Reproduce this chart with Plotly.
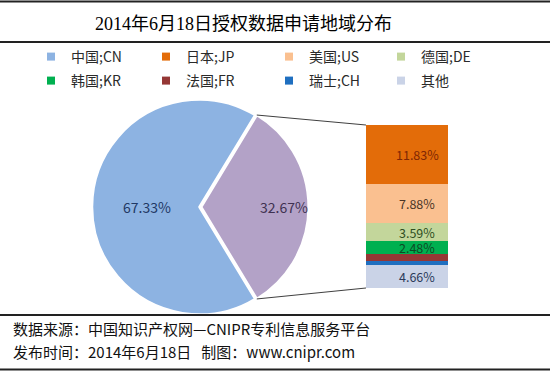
import math
import plotly.graph_objects as go

# ---------------- data ----------------
title_text = "2014年6月18日授权数据申请地域分布"
footer_lines = ["数据来源：中国知识产权网—CNIPR专利信息服务平台",
                "发布时间：2014年6月18日   制图：www.cnipr.com"]

pie_labels = ["其他", "中国;CN"]
pie_values = [32.67, 67.33]
pie_colors = ["#B3A2C7", "#8DB3E2"]
pie_text = ["32.67%", "67.33%"]
pie_text_colors = ["#3F3151", "#1F3864"]

bar_labels = ["日本;JP", "美国;US", "德国;DE", "韩国;KR", "法国;FR", "瑞士;CH", "其他"]
bar_values = [11.83, 7.88, 3.59, 2.48, 1.42, 0.81, 4.66]
bar_colors = ["#E36C09", "#FAC090", "#C3D69B", "#00B050", "#953735", "#1F6FC0", "#CAD3E7"]
bar_text = ["11.83%", "7.88%", "3.59%", "2.48%", "", "", "4.66%"]
bar_text_colors = ["#7F2704", "#4A3526", "#2F4F1F", "#0E4A24", "#000000", "#000000", "#2B3A5A"]

legend_names = ["中国;CN", "日本;JP", "美国;US", "德国;DE", "韩国;KR", "法国;FR", "瑞士;CH", "其他"]
legend_colors = ["#8DB3E2", "#E36C09", "#FAC090", "#C3D69B", "#00B050", "#953735", "#1F6FC0", "#CAD3E7"]

# ---------------- layout geometry (pixels) ----------------
W, H = 550, 371
def px(x):
    return x / W
def py(y):
    return 1 - y / H

cx, cy, r = 199.5, 207, 107.5
pull = 0.015
half = r * (1 + pull)
bar_left, bar_right, bar_top, bar_bottom = 366, 448, 125, 288

fig = go.Figure()

frac_other = pie_values[0] / sum(pie_values)
rotation = 90 - frac_other * 180
fig.add_trace(go.Pie(
    labels=pie_labels, values=pie_values, sort=False, direction="clockwise",
    rotation=rotation, pull=[pull, 0],
    marker=dict(colors=pie_colors, line=dict(color="white", width=2.5)),
    textinfo="none",
    showlegend=False, hoverinfo="label+percent",
    domain=dict(x=[px(cx - half), px(cx + half)], y=[py(cy + half), py(cy - half)]),
))

# stacked bar (bottom first)
for name, val, col in reversed(list(zip(bar_labels, bar_values, bar_colors))):
    fig.add_trace(go.Bar(x=[0], y=[val], name=name, marker=dict(color=col, line=dict(width=0)),
                         width=1, showlegend=False, legendgroup=name))

# legend entries (one legend per entry for exact placement)
leg_x = [31, 146, 269, 381]
leg_y = [57, 81]
layout_legends = {}
for i, (name, col) in enumerate(zip(legend_names, legend_colors)):
    key = "legend" if i == 0 else f"legend{i+1}"
    fig.add_trace(go.Scatter(x=[None], y=[None], mode="markers", name=name,
                             marker=dict(symbol="square", size=8, color=col),
                             legend=key, legendgroup=name, showlegend=True))
    layout_legends[key] = dict(
        x=px(leg_x[i % 4]), y=py(leg_y[i // 4]), xanchor="left", yanchor="middle",
        bgcolor="rgba(0,0,0,0)", font=dict(size=14, color="#2A2A2A", family="Noto Sans CJK SC"),
        itemclick=False, itemdoubleclick=False)

annotations = []

# pie labels, placed along each slice's mid-angle
label_frac = [0.77, 0.49]
start = 0.0
for val, txt, col, lf, pl in zip(pie_values, pie_text, pie_text_colors, label_frac, [pull, 0]):
    mid = math.radians(90 - rotation - (start + val / 2) / sum(pie_values) * 360)
    start += val
    lx = cx + (lf + pl) * r * math.cos(mid)
    ly = cy - (lf + pl) * r * math.sin(mid)
    annotations.append(dict(x=px(lx), y=py(ly), xref="paper", yref="paper", text=txt,
                            showarrow=False, xanchor="center", yanchor="middle",
                            font=dict(size=14, color=col, family="Noto Sans CJK SC")))

# bar labels
cum = 0
for val, txt, col in reversed(list(zip(bar_values, bar_text, bar_text_colors))):
    mid = cum + val / 2
    cum += val
    if txt:
        annotations.append(dict(x=0, y=mid, xref="x", yref="y", text=txt, showarrow=False,
                                xshift=10, yanchor="middle",
                                font=dict(size=12.5, color=col, family="Noto Sans CJK SC")))

# title and footer
annotations.append(dict(x=px(243), y=py(24), xref="paper", yref="paper", text=title_text,
                        showarrow=False, xanchor="center", yanchor="middle",
                        font=dict(size=18, color="#000000",
                                  family="Liberation Serif, Noto Sans CJK SC")))
for i, line in enumerate(footer_lines):
    annotations.append(dict(x=px(11), y=py(328 + 23 * i), xref="paper", yref="paper", text=line,
                            showarrow=False, xanchor="left", yanchor="middle",
                            font=dict(size=15, color="#111111", family="Noto Sans CJK SC")))

# horizontal rules
shapes = []
for yy in [1.5, 42, 315, 369.5]:
    shapes.append(dict(type="line", xref="paper", yref="paper", x0=0, x1=1, y0=py(yy), y1=py(yy),
                       line=dict(color="#222222", width=2), layer="above"))

# connector lines from the exploded slice's corners to the bar's corners
theta = math.radians(frac_other * 180)
ox = cx + pull * r
for sgn, by in [(1, bar_top), (-1, bar_bottom)]:
    x0 = ox + r * math.cos(theta)
    y0 = cy - sgn * r * math.sin(theta)
    shapes.append(dict(type="line", xref="paper", yref="paper",
                       x0=px(x0), y0=py(y0), x1=px(bar_left), y1=py(by),
                       line=dict(color="#404040", width=1), layer="above"))

fig.update_layout(
    width=W, height=H, margin=dict(l=0, r=0, t=0, b=0),
    paper_bgcolor="white", plot_bgcolor="white",
    barmode="stack", bargap=0,
    xaxis=dict(domain=[px(bar_left), px(bar_right)], range=[-0.5, 0.5], visible=False, fixedrange=True),
    yaxis=dict(domain=[py(bar_bottom), py(bar_top)], range=[0, sum(bar_values)], visible=False, fixedrange=True),
    annotations=annotations, shapes=shapes,
    **layout_legends,
)

fig.write_html("out.html", config={"displayModeBar": False},
               post_script="document.body.style.margin = '0px';")
